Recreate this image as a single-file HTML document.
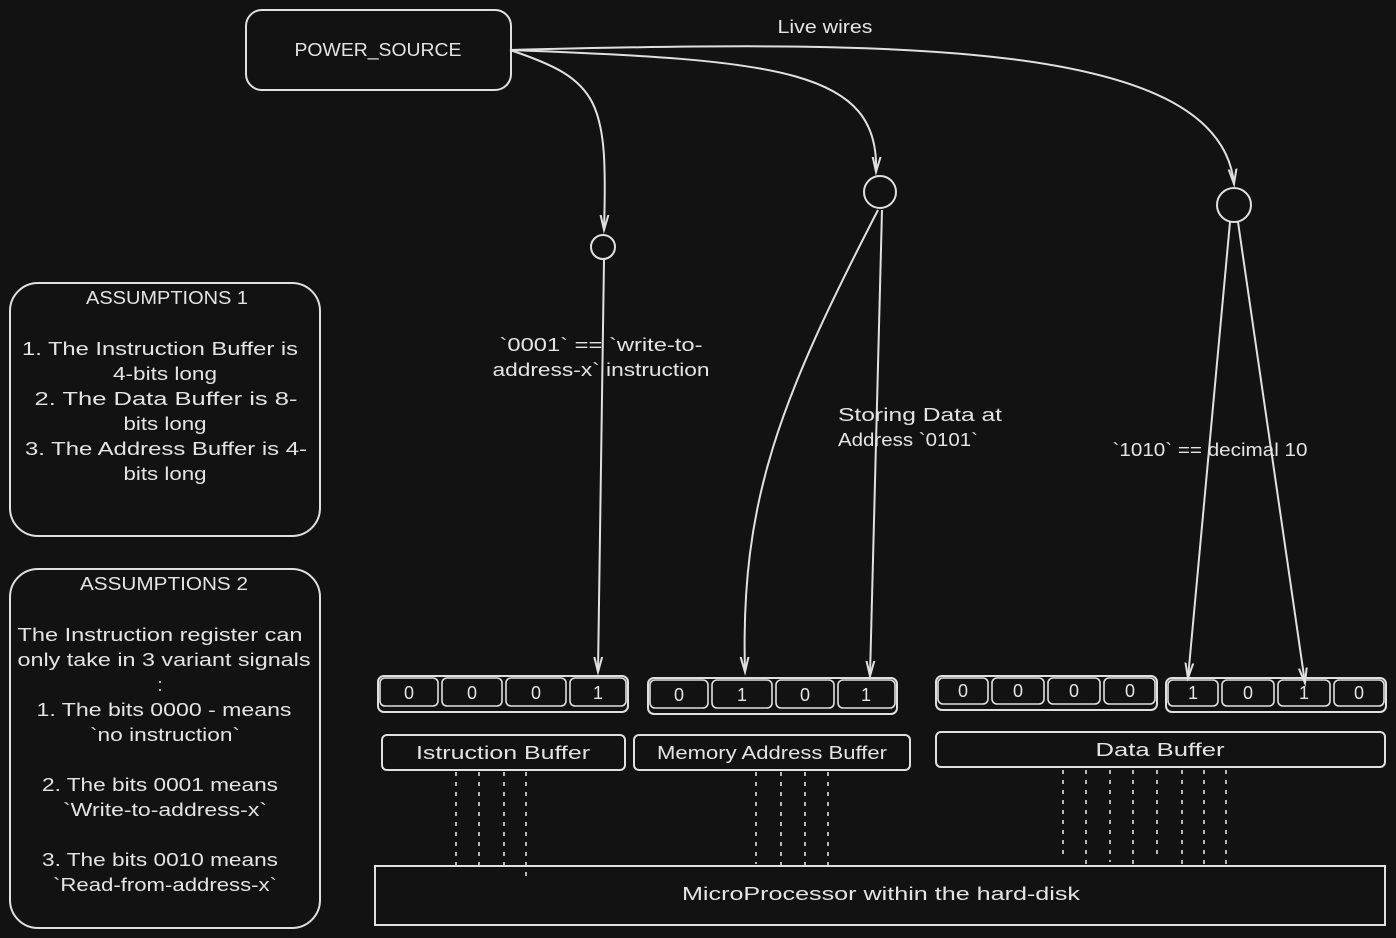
<!DOCTYPE html>
<html><head><meta charset="utf-8"><style>
html,body{margin:0;padding:0;background:#121212;}
svg{display:block}
text{font-family:"Liberation Sans",sans-serif;fill:#e4e4e4;font-size:18px}
</style></head><body>
<svg width="1396" height="938" viewBox="0 0 1396 938" xmlns="http://www.w3.org/2000/svg">
<defs>
<marker id="a" markerWidth="30" markerHeight="30" refX="15" refY="15" orient="auto" markerUnits="userSpaceOnUse">
<path d="M-12,8 L15,15 L-12,22" fill="none" stroke="#e0e0e0" stroke-width="2"/>
</marker>
</defs>
<g fill="none" stroke="#e0e0e0" stroke-width="2">
<rect x="246" y="10" width="265" height="80" rx="16"/>
<rect x="10" y="283" width="310" height="253" rx="28"/>
<rect x="10" y="569" width="310" height="359" rx="28"/>
<path d="M510,50 C600,80 608,100 604,230" marker-end="url(#a)"/>
<path d="M510,50 C780,60 880,70 876,172" marker-end="url(#a)"/>
<path d="M510,50 C900,40 1220,40 1234,184" marker-end="url(#a)"/>
<circle cx="603" cy="247" r="12"/>
<circle cx="880" cy="192" r="16"/>
<circle cx="1234" cy="205" r="17"/>
<path d="M604,260 L598,672" marker-end="url(#a)"/>
<path d="M878,210 C780,400 740,500 745,672" marker-end="url(#a)"/>
<path d="M882,210 L870,676" marker-end="url(#a)"/>
<path d="M1230,222 L1188,678" marker-end="url(#a)"/>
<path d="M1238,222 L1305,683" marker-end="url(#a)"/>
<rect x="378" y="676" width="250" height="36" rx="6"/>
<rect x="648" y="678" width="249" height="36" rx="6"/>
<rect x="936" y="676" width="221" height="34" rx="6"/>
<rect x="1166" y="678" width="220" height="34" rx="6"/>
<g stroke-width="1.6">
<rect x="380" y="678" width="58" height="28" rx="5"/><rect x="442" y="678" width="60" height="28" rx="5"/><rect x="506" y="678" width="60" height="28" rx="5"/><rect x="570" y="678" width="56" height="28" rx="5"/>
<rect x="650" y="680" width="58" height="28" rx="5"/><rect x="712" y="680" width="60" height="28" rx="5"/><rect x="776" y="680" width="58" height="28" rx="5"/><rect x="838" y="680" width="57" height="28" rx="5"/>
<rect x="938" y="678" width="50" height="26" rx="5"/><rect x="992" y="678" width="52" height="26" rx="5"/><rect x="1048" y="678" width="52" height="26" rx="5"/><rect x="1104" y="678" width="51" height="26" rx="5"/>
<rect x="1168" y="680" width="50" height="26" rx="5"/><rect x="1222" y="680" width="52" height="26" rx="5"/><rect x="1278" y="680" width="52" height="26" rx="5"/><rect x="1334" y="680" width="50" height="26" rx="5"/>
</g>
<rect x="382" y="735" width="243" height="35" rx="5"/>
<rect x="634" y="735" width="276" height="35" rx="5"/>
<rect x="936" y="732" width="449" height="35" rx="5"/>
<rect x="375" y="866" width="1010" height="59"/>
<g stroke-dasharray="4,6" stroke-width="1.6">
<path d="M456,772V865M479,772V866M504,772V868M526,772V876"/>
<path d="M756,772V864M781,772V866M805,772V870M828,772V868"/>
<path d="M1063,770V860M1086,770V864M1110,770V862M1133,770V864M1157,770V860M1182,770V865M1204,770V864M1226,770V864"/>
</g>
</g>
<g text-anchor="middle" lengthAdjust="spacingAndGlyphs">
<text x="378" y="56" textLength="167" lengthAdjust="spacingAndGlyphs">POWER_SOURCE</text>
<text x="825" y="33" textLength="95" lengthAdjust="spacingAndGlyphs">Live wires</text>
<text x="601" y="351" textLength="203" lengthAdjust="spacingAndGlyphs">`0001` == `write-to-</text>
<text x="601" y="376" textLength="217" lengthAdjust="spacingAndGlyphs">address-x` instruction</text>
<text x="920" y="421" textLength="164" lengthAdjust="spacingAndGlyphs">Storing Data at</text>
<text x="908" y="446" textLength="140" lengthAdjust="spacingAndGlyphs">Address `0101`</text>
<text x="1210" y="456" textLength="195" lengthAdjust="spacingAndGlyphs">`1010` == decimal 10</text>
<text x="167" y="304" textLength="162" lengthAdjust="spacingAndGlyphs">ASSUMPTIONS 1</text>
<text x="160" y="355" textLength="276" lengthAdjust="spacingAndGlyphs">1. The Instruction Buffer is</text>
<text x="165" y="380" textLength="104" lengthAdjust="spacingAndGlyphs">4-bits long</text>
<text x="166" y="405" textLength="263" lengthAdjust="spacingAndGlyphs">2. The Data Buffer is 8-</text>
<text x="165" y="430" textLength="83" lengthAdjust="spacingAndGlyphs">bits long</text>
<text x="166" y="455" textLength="282" lengthAdjust="spacingAndGlyphs">3. The Address Buffer is 4-</text>
<text x="165" y="480" textLength="83" lengthAdjust="spacingAndGlyphs">bits long</text>
<text x="164" y="590" textLength="168" lengthAdjust="spacingAndGlyphs">ASSUMPTIONS 2</text>
<text x="160" y="641" textLength="285" lengthAdjust="spacingAndGlyphs">The Instruction register can</text>
<text x="164" y="666" textLength="293" lengthAdjust="spacingAndGlyphs">only take in 3 variant signals</text>
<text x="160" y="691">:</text>
<text x="164" y="716" textLength="255" lengthAdjust="spacingAndGlyphs">1. The bits 0000 - means</text>
<text x="165" y="741" textLength="150" lengthAdjust="spacingAndGlyphs">`no instruction`</text>
<text x="160" y="791" textLength="236" lengthAdjust="spacingAndGlyphs">2. The bits 0001 means</text>
<text x="165" y="816" textLength="204" lengthAdjust="spacingAndGlyphs">`Write-to-address-x`</text>
<text x="160" y="866" textLength="236" lengthAdjust="spacingAndGlyphs">3. The bits 0010 means</text>
<text x="165" y="891" textLength="224" lengthAdjust="spacingAndGlyphs">`Read-from-address-x`</text>
<text x="503" y="759" textLength="174" lengthAdjust="spacingAndGlyphs">Istruction Buffer</text>
<text x="772" y="759" textLength="230" lengthAdjust="spacingAndGlyphs">Memory Address Buffer</text>
<text x="1160" y="756" textLength="129" lengthAdjust="spacingAndGlyphs">Data Buffer</text>
<text x="881" y="900" font-size="20" textLength="398" lengthAdjust="spacingAndGlyphs">MicroProcessor within the hard-disk</text>
</g>
<g text-anchor="middle" font-size="17">
<text x="409" y="699">0</text><text x="472" y="699">0</text><text x="536" y="699">0</text><text x="598" y="699">1</text>
<text x="679" y="701">0</text><text x="742" y="701">1</text><text x="805" y="701">0</text><text x="866" y="701">1</text>
<text x="963" y="697">0</text><text x="1018" y="697">0</text><text x="1074" y="697">0</text><text x="1130" y="697">0</text>
<text x="1193" y="699">1</text><text x="1248" y="699">0</text><text x="1304" y="699">1</text><text x="1359" y="699">0</text>
</g>
</svg>
</body></html>
